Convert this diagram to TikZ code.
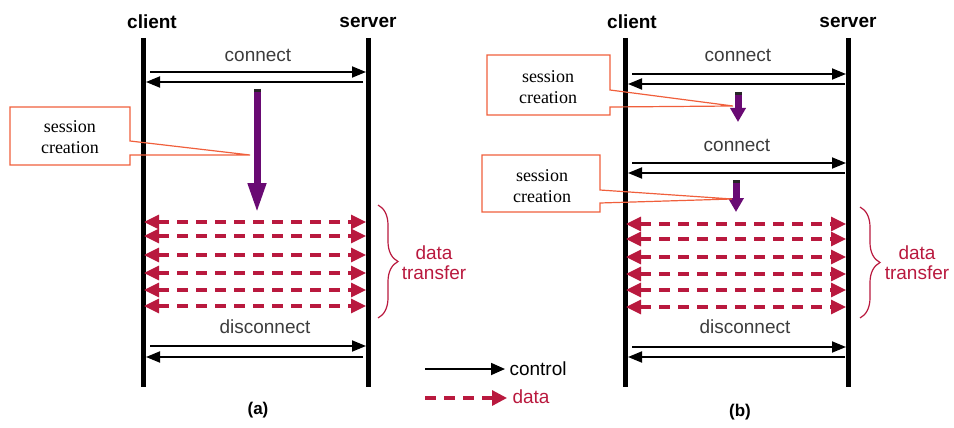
\documentclass[tikz,border=0pt]{standalone}
\usepackage{fontspec}
\setmainfont{Liberation Sans}
\newfontfamily\calloutfont{Liberation Serif}
\usetikzlibrary{arrows.meta,decorations.pathreplacing}

\definecolor{datared}{RGB}{185,25,62}
\definecolor{callred}{RGB}{240,95,60}
\definecolor{sesspurple}{RGB}{105,10,115}
\definecolor{msggray}{RGB}{60,60,60}

\tikzset{
  lifeline/.style={line width=5pt},
  headlabel/.style={font=\fontsize{19}{21}\selectfont\bfseries},
  msglabel/.style={font=\fontsize{19}{21}\selectfont, text=msggray},
  ctrlarrow/.style={line width=1.8pt, -{Triangle[length=14pt,width=11pt]}},
  dataarrow/.style={draw=datared, line width=3.2pt, dash pattern=on 11pt off 8pt,
    {Triangle[length=15pt,width=14pt]}-{Triangle[length=15pt,width=14pt]}},
  sessbig/.style={draw=sesspurple, line width=7pt, -{Triangle[length=30pt,width=17pt]}},
  sesssmall/.style={draw=sesspurple, line width=7pt, -{Triangle[length=14pt,width=15pt]}},
  callout/.style={draw=callred, line width=1.2pt},
  callouttext/.style={font=\calloutfont\fontsize{18}{21}\selectfont, align=center},
  databrace/.style={draw=datared, line width=1.2pt,
    decorate, decoration={brace, amplitude=20pt}},
  bracetext/.style={font=\fontsize{19}{20}\selectfont, text=datared, align=center},
  caption/.style={font=\fontsize{17}{19}\selectfont\bfseries}
}

\begin{document}
\begin{tikzpicture}[x=1pt, y=-1pt]
\useasboundingbox (0,0) rectangle (954,428);

% ---------------- (a): one connection, session created inside it
\node[headlabel] (aclient) at (152,22) {client};
\node[headlabel] (aserver) at (368,22) {server};
\draw[lifeline] (143,38) -- (143,387);
\draw[lifeline] (368,38) -- (368,387);

\node[msglabel] (aconn) at (258,55) {connect};
\coordinate (aconnR0) at (150,72);  \coordinate (aconnR1) at (366,72);
\coordinate (aconnL0) at (363,82);  \coordinate (aconnL1) at (146,82);
\draw[ctrlarrow] (aconnR0) -- (aconnR1);
\draw[ctrlarrow] (aconnL0) -- (aconnL1);

% session creation
\coordinate (asessTop) at (257,89);
\coordinate (asessTip) at (257,213);
\draw[sessbig] (asessTop) -- (asessTip);
\draw[line width=7pt, draw=black!85] (257,89) -- (257,92);
\coordinate (apoint) at (250,155);
\draw[callout] (10,107) -- (130,107) -- (130,141) -- (apoint) -- (130,155)
  -- (130,165) -- (10,165) -- cycle;
\node[callouttext] (asess) at (70,137) {session\\creation};

% data transfer
\foreach \y [count=\i] in {222,236,255,273,290,306} {
  \coordinate (adL\i) at (144,\y);
  \coordinate (adR\i) at (366,\y);
  \draw[dataarrow] (adL\i) -- (adR\i);
}
\coordinate (abrTop) at (378,205);
\coordinate (abrBot) at (378,318);
\draw[databrace] (abrTop) -- (abrBot);
\node[bracetext] (adata) at (434,263) {data\\transfer};

% disconnect
\node[msglabel] (adisc) at (265,327) {disconnect};
\coordinate (adiscR0) at (150,346); \coordinate (adiscR1) at (366,346);
\coordinate (adiscL0) at (363,357); \coordinate (adiscL1) at (146,357);
\draw[ctrlarrow] (adiscR0) -- (adiscR1);
\draw[ctrlarrow] (adiscL0) -- (adiscL1);

\node[caption] (acap) at (258,410) {(a)};

% ---------------- legend
\coordinate (lgC0) at (425,369); \coordinate (lgC1) at (505,369);
\draw[line width=1.8pt, -{Triangle[length=14pt,width=12pt]}] (lgC0) -- (lgC1);
\node[msglabel, text=black, anchor=west] (lgctrl) at (506,369) {control};
\coordinate (lgD0) at (425,398); \coordinate (lgD1) at (507,398);
\draw[draw=datared, line width=3.2pt, dash pattern=on 11pt off 8pt,
  -{Triangle[length=15pt,width=15pt]}] (lgD0) -- (lgD1);
\node[bracetext, anchor=west] (lgdata) at (509,397) {data};

% ---------------- (b): session created for each connection
\node[headlabel] (bclient) at (632,22) {client};
\node[headlabel] (bserver) at (848,22) {server};
\draw[lifeline] (625,38) -- (625,387);
\draw[lifeline] (848,38) -- (848,387);

\node[msglabel] (bconn1) at (738,55) {connect};
\coordinate (bc1R0) at (632,74);  \coordinate (bc1R1) at (846,74);
\coordinate (bc1L0) at (845,84);  \coordinate (bc1L1) at (628,84);
\draw[ctrlarrow] (bc1R0) -- (bc1R1);
\draw[ctrlarrow] (bc1L0) -- (bc1L1);

\coordinate (bs1Top) at (738,92);
\coordinate (bs1Tip) at (738,122);
\draw[sesssmall] (bs1Top) -- (bs1Tip);
\draw[line width=7pt, draw=black!85] (738,92) -- (738,95);
\coordinate (bpoint1) at (733,106);
\draw[callout] (487,55) -- (610,55) -- (610,90) -- (bpoint1) -- (610,107)
  -- (610,115) -- (487,115) -- cycle;
\node[callouttext] (bsess1) at (548,87) {session\\creation};

\node[msglabel] (bconn2) at (737,145) {connect};
\coordinate (bc2R0) at (632,163); \coordinate (bc2R1) at (846,163);
\coordinate (bc2L0) at (845,173); \coordinate (bc2L1) at (628,173);
\draw[ctrlarrow] (bc2R0) -- (bc2R1);
\draw[ctrlarrow] (bc2L0) -- (bc2L1);

\coordinate (bs2Top) at (736,180);
\coordinate (bs2Tip) at (736,212);
\draw[sesssmall] (bs2Top) -- (bs2Tip);
\draw[line width=7pt, draw=black!85] (736,180) -- (736,183);
\coordinate (bpoint2) at (732,199);
\draw[callout] (482,155) -- (600,155) -- (600,190) -- (bpoint2) -- (600,203)
  -- (600,212) -- (482,212) -- cycle;
\node[callouttext] (bsess2) at (542,186) {session\\creation};

\foreach \y [count=\i] in {224,239,257,274,290,307} {
  \coordinate (bdL\i) at (626,\y);
  \coordinate (bdR\i) at (846,\y);
  \draw[dataarrow] (bdL\i) -- (bdR\i);
}
\coordinate (bbrTop) at (860,207);
\coordinate (bbrBot) at (860,318);
\draw[databrace] (bbrTop) -- (bbrBot);
\node[bracetext] (bdata) at (917,263) {data\\transfer};

\node[msglabel] (bdisc) at (745,327) {disconnect};
\coordinate (bdR0) at (632,347); \coordinate (bdR1) at (846,347);
\coordinate (bdL0) at (845,357); \coordinate (bdL1) at (628,357);
\draw[ctrlarrow] (bdR0) -- (bdR1);
\draw[ctrlarrow] (bdL0) -- (bdL1);

\node[caption] (bcap) at (740,412) {(b)};
\end{tikzpicture}
\end{document}
